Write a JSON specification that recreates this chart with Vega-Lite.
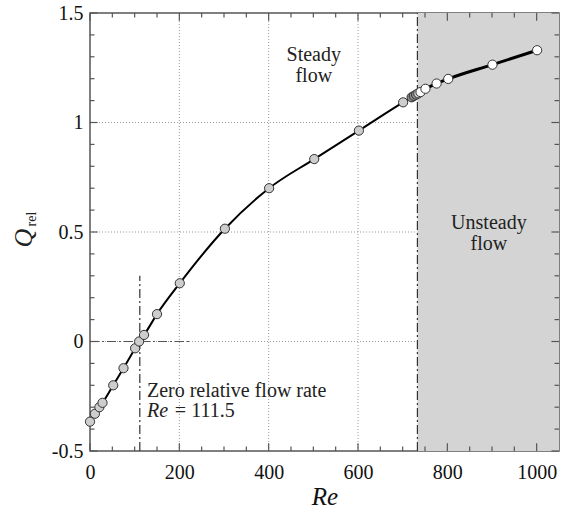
{
  "$schema": "https://vega.github.io/schema/vega-lite/v6.json",
  "width": 469,
  "height": 438,
  "autosize": "none",
  "padding": {"left": 90, "top": 13, "right": 2, "bottom": 61},
  "background": "white",
  "config": {"view": {"stroke": "#555", "strokeWidth": 1.5}},
  "datasets": {
    "pts": [
      {"Re": 0, "Q": -0.366, "regime": "steady"},
      {"Re": 11, "Q": -0.33, "regime": "steady"},
      {"Re": 21, "Q": -0.30, "regime": "steady"},
      {"Re": 28, "Q": -0.28, "regime": "steady"},
      {"Re": 52, "Q": -0.20, "regime": "steady"},
      {"Re": 75, "Q": -0.122, "regime": "steady"},
      {"Re": 101, "Q": -0.031, "regime": "steady"},
      {"Re": 110, "Q": 0.0, "regime": "steady"},
      {"Re": 121, "Q": 0.03, "regime": "steady"},
      {"Re": 150, "Q": 0.125, "regime": "steady"},
      {"Re": 201, "Q": 0.266, "regime": "steady"},
      {"Re": 302, "Q": 0.515, "regime": "steady"},
      {"Re": 401, "Q": 0.70, "regime": "steady"},
      {"Re": 502, "Q": 0.833, "regime": "steady"},
      {"Re": 602, "Q": 0.963, "regime": "steady"},
      {"Re": 701, "Q": 1.092, "regime": "steady"},
      {"Re": 720, "Q": 1.115, "regime": "transition"},
      {"Re": 725, "Q": 1.121, "regime": "transition"},
      {"Re": 730, "Q": 1.127, "regime": "transition"},
      {"Re": 735, "Q": 1.133, "regime": "steady"},
      {"Re": 740, "Q": 1.139, "regime": "unsteady"},
      {"Re": 751, "Q": 1.154, "regime": "unsteady"},
      {"Re": 776, "Q": 1.178, "regime": "unsteady"},
      {"Re": 802, "Q": 1.199, "regime": "unsteady"},
      {"Re": 901, "Q": 1.264, "regime": "unsteady"},
      {"Re": 1001, "Q": 1.330, "regime": "unsteady"}
    ],
    "xt": [
      {"v": 0, "major": true}, {"v": 50, "major": false}, {"v": 100, "major": false}, {"v": 150, "major": false},
      {"v": 200, "major": true}, {"v": 250, "major": false}, {"v": 300, "major": false}, {"v": 350, "major": false},
      {"v": 400, "major": true}, {"v": 450, "major": false}, {"v": 500, "major": false}, {"v": 550, "major": false},
      {"v": 600, "major": true}, {"v": 650, "major": false}, {"v": 700, "major": false}, {"v": 750, "major": false},
      {"v": 800, "major": true}, {"v": 850, "major": false}, {"v": 900, "major": false}, {"v": 950, "major": false},
      {"v": 1000, "major": true}
    ],
    "yt": [
      {"v": -0.5, "major": true}, {"v": -0.4, "major": false}, {"v": -0.3, "major": false}, {"v": -0.2, "major": false},
      {"v": -0.1, "major": false}, {"v": 0, "major": true}, {"v": 0.1, "major": false}, {"v": 0.2, "major": false},
      {"v": 0.3, "major": false}, {"v": 0.4, "major": false}, {"v": 0.5, "major": true}, {"v": 0.6, "major": false},
      {"v": 0.7, "major": false}, {"v": 0.8, "major": false}, {"v": 0.9, "major": false}, {"v": 1, "major": true},
      {"v": 1.1, "major": false}, {"v": 1.2, "major": false}, {"v": 1.3, "major": false}, {"v": 1.4, "major": false},
      {"v": 1.5, "major": true}
    ]
  },
  "encoding": {
    "x": {"type": "quantitative", "scale": {"domain": [0, 1050], "nice": false, "zero": false}},
    "y": {"type": "quantitative", "scale": {"domain": [-0.5, 1.5], "nice": false, "zero": false}}
  },
  "layer": [
    {
      "data": {"values": [{}]},
      "mark": {"type": "rect", "fill": "#d4d4d4"},
      "encoding": {
        "x": {"datum": 733, "axis": null},
        "x2": {"datum": 1050},
        "y": {"datum": -0.5, "axis": null},
        "y2": {"datum": 1.5}
      }
    },
    {
      "data": {"values": [{"g": 200}, {"g": 400}, {"g": 600}]},
      "mark": {"type": "rule", "stroke": "#999", "strokeWidth": 1, "strokeDash": [1, 2]},
      "encoding": {
        "x": {"field": "g", "type": "quantitative", "axis": null},
        "y": {"datum": -0.5, "axis": null},
        "y2": {"datum": 1.5}
      }
    },
    {
      "data": {"values": [{"g": 0}, {"g": 0.5}, {"g": 1}]},
      "mark": {"type": "rule", "stroke": "#999", "strokeWidth": 1, "strokeDash": [1, 2]},
      "encoding": {
        "y": {"field": "g", "type": "quantitative", "axis": null},
        "x": {"datum": 0, "axis": null},
        "x2": {"datum": 733}
      }
    },
    {
      "data": {"name": "xt"},
      "transform": [{"filter": "datum.major"}],
      "mark": {"type": "rule", "stroke": "#555", "strokeWidth": 1.2},
      "encoding": {
        "x": {"field": "v", "type": "quantitative", "axis": null},
        "y": {"datum": -0.5, "axis": null},
        "y2": {"datum": -0.465}
      }
    },
    {
      "data": {"name": "xt"},
      "transform": [{"filter": "!datum.major"}],
      "mark": {"type": "rule", "stroke": "#555", "strokeWidth": 1.2},
      "encoding": {
        "x": {"field": "v", "type": "quantitative", "axis": null},
        "y": {"datum": -0.5, "axis": null},
        "y2": {"datum": -0.48}
      }
    },
    {
      "data": {"name": "xt"},
      "transform": [{"filter": "datum.major"}],
      "mark": {"type": "rule", "stroke": "#555", "strokeWidth": 1.2},
      "encoding": {
        "x": {"field": "v", "type": "quantitative", "axis": null},
        "y": {"datum": 1.5, "axis": null},
        "y2": {"datum": 1.465}
      }
    },
    {
      "data": {"name": "xt"},
      "transform": [{"filter": "!datum.major"}],
      "mark": {"type": "rule", "stroke": "#555", "strokeWidth": 1.2},
      "encoding": {
        "x": {"field": "v", "type": "quantitative", "axis": null},
        "y": {"datum": 1.5, "axis": null},
        "y2": {"datum": 1.48}
      }
    },
    {
      "data": {"name": "yt"},
      "transform": [{"filter": "datum.major"}],
      "mark": {"type": "rule", "stroke": "#555", "strokeWidth": 1.2},
      "encoding": {
        "y": {"field": "v", "type": "quantitative", "axis": null},
        "x": {"datum": 0, "axis": null},
        "x2": {"datum": 17}
      }
    },
    {
      "data": {"name": "yt"},
      "transform": [{"filter": "!datum.major"}],
      "mark": {"type": "rule", "stroke": "#555", "strokeWidth": 1.2},
      "encoding": {
        "y": {"field": "v", "type": "quantitative", "axis": null},
        "x": {"datum": 0, "axis": null},
        "x2": {"datum": 10}
      }
    },
    {
      "data": {"name": "yt"},
      "transform": [{"filter": "datum.major"}],
      "mark": {"type": "rule", "stroke": "#555", "strokeWidth": 1.2},
      "encoding": {
        "y": {"field": "v", "type": "quantitative", "axis": null},
        "x": {"datum": 1050, "axis": null},
        "x2": {"datum": 1033}
      }
    },
    {
      "data": {"name": "yt"},
      "transform": [{"filter": "!datum.major"}],
      "mark": {"type": "rule", "stroke": "#555", "strokeWidth": 1.2},
      "encoding": {
        "y": {"field": "v", "type": "quantitative", "axis": null},
        "x": {"datum": 1050, "axis": null},
        "x2": {"datum": 1040}
      }
    },
    {
      "data": {"values": [{}]},
      "mark": {"type": "rule", "stroke": "#333", "strokeWidth": 1.2, "strokeDash": [9, 3, 2, 3]},
      "encoding": {
        "x": {"datum": 733, "axis": null},
        "y": {"datum": -0.5, "axis": null},
        "y2": {"datum": 1.5}
      }
    },
    {
      "data": {"values": [{}]},
      "mark": {"type": "rule", "stroke": "#333", "strokeWidth": 1.2, "strokeDash": [9, 3, 2, 3]},
      "encoding": {
        "x": {"datum": 111.5, "axis": null},
        "y": {"datum": -0.5, "axis": null},
        "y2": {"datum": 0.3}
      }
    },
    {
      "data": {"values": [{}]},
      "mark": {"type": "rule", "stroke": "#555", "strokeWidth": 1.2, "strokeDash": [9, 3, 2, 3]},
      "encoding": {
        "x": {"datum": 0, "axis": null},
        "x2": {"datum": 222},
        "y": {"datum": 0, "axis": null}
      }
    },
    {
      "data": {"name": "pts"},
      "transform": [{"filter": "datum.Re <= 735"}],
      "mark": {"type": "line", "color": "black", "strokeWidth": 2, "interpolate": "monotone"},
      "encoding": {
        "x": {"field": "Re", "axis": {
          "orient": "bottom", "title": "Re", "grid": false, "domain": false, "zindex": 1, "labelFlush": false, "ticks": true,
          "values": [0, 50, 100, 150, 200, 250, 300, 350, 400, 450, 500, 550, 600, 650, 700, 750, 800, 850, 900, 950, 1000],
          "tickSize": -6, "tickOpacity": 0,
          "labelExpr": "datum.value % 200 === 0 ? toString(datum.value) : ''",
          "labelFont": "Liberation Serif", "labelFontSize": 20, "labelColor": "#111", "labelPadding": 17,
          "titleFont": "Liberation Serif", "titleFontSize": 25, "titleFontStyle": "italic", "titleFontWeight": "normal", "titleColor": "#111", "titlePadding": 2
        }},
        "y": {"field": "Q", "axis": {
          "orient": "left", "title": null, "grid": false, "domain": false, "zindex": 1, "labelFlush": false, "ticks": true,
          "values": [-0.5, -0.4, -0.3, -0.2, -0.1, 0, 0.1, 0.2, 0.3, 0.4, 0.5, 0.6, 0.7, 0.8, 0.9, 1, 1.1, 1.2, 1.3, 1.4, 1.5],
          "tickSize": -6, "tickOpacity": 0,
          "labelExpr": "abs(datum.value*2 - round(datum.value*2)) < 0.001 ? toString(round(datum.value*10)/10) : ''",
          "labelFont": "Liberation Serif", "labelFontSize": 20, "labelColor": "#111", "labelPadding": 13
        }}
      }
    },
    {
      "data": {"name": "pts"},
      "transform": [{"filter": "datum.Re >= 730"}],
      "mark": {"type": "line", "color": "black", "strokeWidth": 3, "interpolate": "monotone"},
      "encoding": {
        "x": {"field": "Re", "axis": null},
        "y": {"field": "Q", "axis": null}
      }
    },
    {
      "data": {"name": "pts"},
      "mark": {"type": "point", "filled": false, "shape": "circle", "size": 85, "stroke": "#333", "strokeWidth": 1, "opacity": 1},
      "encoding": {
        "x": {"field": "Re", "axis": null},
        "y": {"field": "Q", "axis": null},
        "fill": {"field": "regime", "type": "nominal", "legend": null,
          "scale": {"domain": ["steady", "transition", "unsteady"], "range": ["#cdcdcd", "#8a8a8a", "#ffffff"]}},
        "fillOpacity": {"value": 1}
      }
    },
    {
      "data": {"values": [
        {"x": 501, "y": 1.308, "t": "Steady"},
        {"x": 501, "y": 1.212, "t": "flow"},
        {"x": 893, "y": 0.541, "t": "Unsteady"},
        {"x": 893, "y": 0.445, "t": "flow"}
      ]},
      "mark": {"type": "text", "font": "Liberation Serif", "fontSize": 20, "color": "#222", "align": "center", "baseline": "middle"},
      "encoding": {
        "x": {"field": "x", "type": "quantitative", "axis": null},
        "y": {"field": "y", "type": "quantitative", "axis": null},
        "text": {"field": "t"}
      }
    },
    {
      "data": {"values": [
        {"x": 127.5, "y": -0.226, "t": "Zero relative flow rate"},
        {"x": 190, "y": -0.317, "t": "= 111.5"}
      ]},
      "mark": {"type": "text", "font": "Liberation Serif", "fontSize": 20, "color": "#222", "align": "left", "baseline": "middle"},
      "encoding": {
        "x": {"field": "x", "type": "quantitative", "axis": null},
        "y": {"field": "y", "type": "quantitative", "axis": null},
        "text": {"field": "t"}
      }
    },
    {
      "data": {"values": [{"x": 127.5, "y": -0.317, "t": "Re"}]},
      "mark": {"type": "text", "font": "Liberation Serif", "fontSize": 20, "fontStyle": "italic", "color": "#222", "align": "left", "baseline": "middle"},
      "encoding": {
        "x": {"field": "x", "type": "quantitative", "axis": null},
        "y": {"field": "y", "type": "quantitative", "axis": null},
        "text": {"field": "t"}
      }
    },
    {
      "data": {"values": [{"x": -147.7, "y": 0.4726, "t": "Q"}]},
      "mark": {"type": "text", "font": "Liberation Serif", "fontSize": 26, "fontStyle": "italic", "color": "#222", "align": "center", "baseline": "middle", "angle": 270},
      "encoding": {
        "x": {"field": "x", "type": "quantitative", "axis": null},
        "y": {"field": "y", "type": "quantitative", "axis": null},
        "text": {"field": "t"}
      }
    },
    {
      "data": {"values": [{"x": -129.5, "y": 0.559, "t": "rel"}]},
      "mark": {"type": "text", "font": "Liberation Serif", "fontSize": 14, "color": "#222", "align": "center", "baseline": "middle", "angle": 270},
      "encoding": {
        "x": {"field": "x", "type": "quantitative", "axis": null},
        "y": {"field": "y", "type": "quantitative", "axis": null},
        "text": {"field": "t"}
      }
    }
  ],
  "resolve": {"axis": {"x": "independent", "y": "independent"}}
}
